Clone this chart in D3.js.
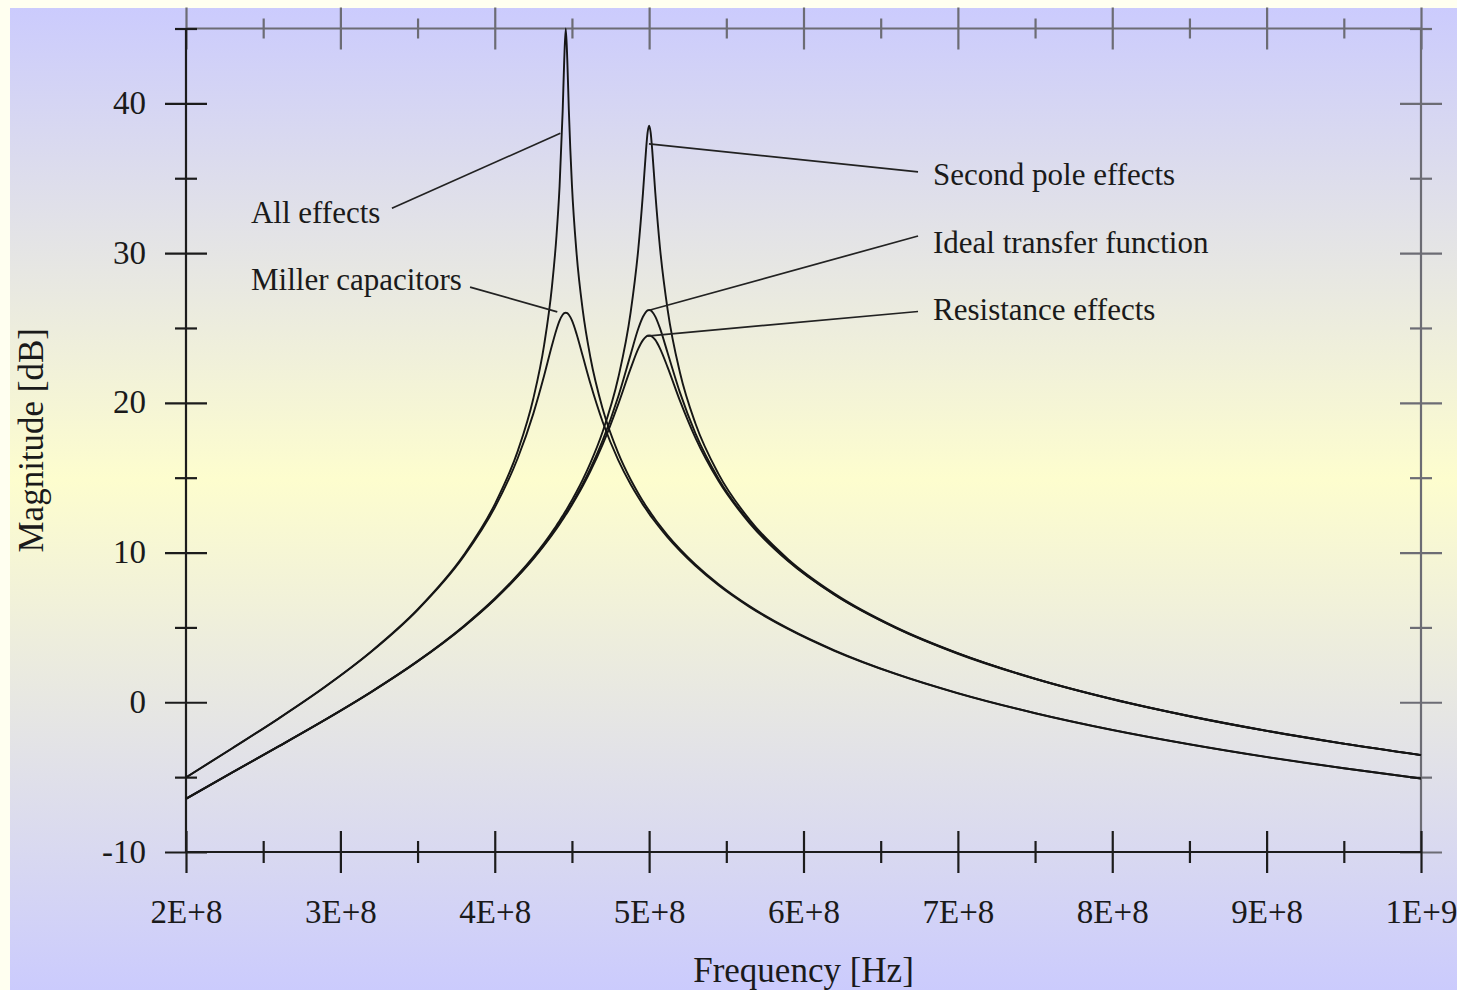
<!DOCTYPE html>
<html>
<head>
<meta charset="utf-8">
<script src="https://cdnjs.cloudflare.com/ajax/libs/d3/7.8.5/d3.min.js"></script>
<style>
body { margin: 0; background: #fffff0; }
svg { display: block; }
text { font-family: "Liberation Serif", "Times New Roman", serif; fill: #1a1a1a; }
</style>
</head>
<body>
<div id="chart"></div>
<script>
// frequency samples in MHz (denser around the two resonances)
var freqMHz = [200, 230, 260, 290, 320, 350, 380, 400, 415, 425, 432, 437, 440, 442, 444, 445, 446, 447, 448, 450,
               453, 457, 462, 470, 480, 488, 493, 496, 498, 499, 500, 501, 502, 504, 507, 512, 520, 530, 545, 565,
               590, 620, 660, 700, 750, 800, 850, 900, 950, 1000];

// magnitudes in dB
var allEffects = [-5.02, -3.07, -1.08, 1.03, 3.40, 6.20, 9.85, 13.22, 16.81, 20.29, 23.87, 27.71, 31.16, 34.48, 39.49, 42.86, 45.00, 42.87, 39.52, 34.55,
                  29.99, 26.19, 23.01, 19.57, 16.64, 14.88, 13.95, 13.43, 13.11, 12.95, 12.80, 12.65, 12.50, 12.21, 11.80, 11.15, 10.22, 9.20, 7.88, 6.42,
                  4.93, 3.47, 1.89, 0.61, -0.72, -1.84, -2.80, -3.65, -4.41, -5.09];
var millerCaps = [-5.02, -3.07, -1.09, 1.02, 3.37, 6.16, 9.75, 13.00, 16.33, 19.28, 21.82, 23.81, 24.90, 25.49, 25.88, 25.99, 26.02, 25.99, 25.88, 25.50,
                  24.60, 23.12, 21.27, 18.70, 16.17, 14.56, 13.69, 13.20, 12.90, 12.75, 12.60, 12.45, 12.31, 12.04, 11.64, 11.01, 10.11, 9.11, 7.81, 6.37,
                  4.90, 3.44, 1.88, 0.60, -0.73, -1.85, -2.81, -3.66, -4.41, -5.09];
var secondPole = [-6.44, -4.68, -2.94, -1.17, 0.70, 2.75, 5.10, 6.93, 8.52, 9.72, 10.64, 11.36, 11.81, 12.13, 12.45, 12.62, 12.79, 12.96, 13.14, 13.50,
                  14.06, 14.87, 15.99, 18.10, 21.67, 26.02, 30.29, 33.99, 36.88, 38.04, 38.51, 38.04, 36.89, 34.03, 30.39, 26.21, 22.01, 18.62, 15.24, 12.20,
                  9.56, 7.26, 5.00, 3.28, 1.58, 0.22, -0.92, -1.90, -2.76, -3.52];
var idealTF = [-6.45, -4.68, -2.95, -1.18, 0.69, 2.73, 5.07, 6.88, 8.45, 9.63, 10.53, 11.23, 11.67, 11.97, 12.28, 12.44, 12.61, 12.77, 12.94, 13.28,
               13.82, 14.58, 15.62, 17.51, 20.42, 23.22, 24.96, 25.75, 26.08, 26.17, 26.20, 26.17, 26.08, 25.76, 24.99, 23.33, 20.68, 17.96, 14.92, 12.04,
               9.47, 7.20, 4.97, 3.26, 1.57, 0.21, -0.93, -1.91, -2.76, -3.53];
var resistance = [-6.45, -4.69, -2.95, -1.18, 0.68, 2.72, 5.05, 6.86, 8.42, 9.58, 10.48, 11.16, 11.59, 11.89, 12.20, 12.36, 12.52, 12.68, 12.84, 13.18,
                  13.70, 14.44, 15.44, 17.24, 19.91, 22.28, 23.62, 24.19, 24.42, 24.48, 24.50, 24.48, 24.42, 24.20, 23.64, 22.37, 20.13, 17.66, 14.77, 11.97,
                  9.43, 7.18, 4.95, 3.24, 1.56, 0.20, -0.93, -1.91, -2.77, -3.53];

var xMajor = [2e8, 3e8, 4e8, 5e8, 6e8, 7e8, 8e8, 9e8, 1e9];
var xMinor = [2.5e8, 3.5e8, 4.5e8, 5.5e8, 6.5e8, 7.5e8, 8.5e8, 9.5e8];
var xTickLabels = ["2E+8", "3E+8", "4E+8", "5E+8", "6E+8", "7E+8", "8E+8", "9E+8", "1E+9"];
var yMajor = [-10, 0, 10, 20, 30, 40];
var yMinor = [-5, 5, 15, 25, 35, 45];
var yTickLabels = ["-10", "0", "10", "20", "30", "40"];

var seriesNames = ["All effects", "Miller capacitors", "Second pole effects", "Ideal transfer function", "Resistance effects"];
var seriesValues = [allEffects, millerCaps, secondPole, idealTF, resistance];

// callouts: text anchor, start of leader, end of leader on the curve (Hz, dB)
var callouts = [
    { text: "All effects",             tx: 2.421e8, ty: 32.03, x1: 3.334e8, y1: 33.0,  x2: 4.425e8, y2: 38.0 },
    { text: "Miller capacitors",       tx: 2.421e8, ty: 27.53, x1: 3.840e8, y1: 27.73, x2: 4.405e8, y2: 26.07 },
    { text: "Second pole effects",     tx: 6.839e8, ty: 34.55, x1: 6.742e8, y1: 35.42, x2: 4.999e8, y2: 37.29 },
    { text: "Ideal transfer function", tx: 6.839e8, ty: 30.03, x1: 6.742e8, y1: 31.14, x2: 5.006e8, y2: 26.2 },
    { text: "Resistance effects",      tx: 6.839e8, ty: 25.5,  x1: 6.742e8, y1: 26.1,  x2: 4.986e8, y2: 24.46 }
];

var width = 1457, height = 990;
var dark = "#1c1c1c", grey = "#6c6c74";

var svg = d3.select("#chart").append("svg")
    .attr("width", width)
    .attr("height", height);

// background gradient lavender -> pale yellow -> lavender
var grad = svg.append("defs").append("linearGradient")
    .attr("id", "bg")
    .attr("x1", 0).attr("y1", 0).attr("x2", 0).attr("y2", 1);
grad.append("stop").attr("offset", "0%").attr("stop-color", "#cbcbfd");
grad.append("stop").attr("offset", "48%").attr("stop-color", "#fdfdce");
grad.append("stop").attr("offset", "100%").attr("stop-color", "#cbcbfd");

svg.append("rect").attr("width", width).attr("height", height).attr("fill", "#fffff0");
svg.append("rect")
    .attr("x", 10).attr("y", 8)
    .attr("width", width - 10).attr("height", height - 8)
    .attr("fill", "url(#bg)");

var x = d3.scaleLinear().domain([2e8, 1e9]).range([186, 1421]);
var y = d3.scaleLinear().domain([-10, 45]).range([852, 28.5]);

// ticks that cross the axis line on both sides
function crossTicks(g, horizontal, size, color) {
    g.select(".domain").remove();
    g.selectAll(".tick line")
        .attr(horizontal ? "y1" : "x1", -size)
        .attr(horizontal ? "y2" : "x2", size)
        .attr("stroke", color)
        .attr("stroke-width", 2.2);
}

// mirror axes (top / right) in grey
var topAxis = svg.append("g").attr("transform", "translate(0," + y(45) + ")");
topAxis.append("line").attr("x1", x(2e8)).attr("x2", x(1e9)).attr("stroke", grey).attr("stroke-width", 2.2);
topAxis.append("g").call(d3.axisTop(x).tickValues(xMajor).tickFormat("")).call(crossTicks, true, 21, grey);
topAxis.append("g").call(d3.axisTop(x).tickValues(xMinor).tickFormat("")).call(crossTicks, true, 10, grey);

var rightAxis = svg.append("g").attr("transform", "translate(" + x(1e9) + ",0)");
rightAxis.append("line").attr("y1", y(45)).attr("y2", y(-10)).attr("stroke", grey).attr("stroke-width", 2.2);
rightAxis.append("g").call(d3.axisRight(y).tickValues(yMajor).tickFormat("")).call(crossTicks, false, 21, grey);
rightAxis.append("g").call(d3.axisRight(y).tickValues(yMinor).tickFormat("")).call(crossTicks, false, 11, grey);

// bottom axis
var bottomAxis = svg.append("g").attr("transform", "translate(0," + y(-10) + ")");
bottomAxis.append("line").attr("x1", x(2e8)).attr("x2", x(1e9)).attr("stroke", dark).attr("stroke-width", 2.2);
bottomAxis.append("g")
    .call(d3.axisBottom(x).tickValues(xMajor).tickFormat(function(d, i) { return xTickLabels[i]; }))
    .call(crossTicks, true, 21, dark)
    .call(function(g) {
        g.selectAll(".tick text")
            .attr("y", 71).attr("dy", 0)
            .attr("fill", dark)
            .style("font-size", "33px")
            .style("font-family", "'Liberation Serif', serif");
    });
bottomAxis.append("g").call(d3.axisBottom(x).tickValues(xMinor).tickFormat("")).call(crossTicks, true, 11, dark);

// left axis
var leftAxis = svg.append("g").attr("transform", "translate(" + x(2e8) + ",0)");
leftAxis.append("line").attr("y1", y(45)).attr("y2", y(-10)).attr("stroke", dark).attr("stroke-width", 2.2);
leftAxis.append("g")
    .call(d3.axisLeft(y).tickValues(yMajor).tickFormat(function(d, i) { return yTickLabels[i]; }))
    .call(crossTicks, false, 21, dark)
    .call(function(g) {
        g.selectAll(".tick text")
            .attr("x", -40).attr("dy", 10)
            .attr("fill", dark)
            .style("font-size", "33px")
            .style("font-family", "'Liberation Serif', serif");
    });
leftAxis.append("g").call(d3.axisLeft(y).tickValues(yMinor).tickFormat("")).call(crossTicks, false, 11, dark);

// the curves
var line = d3.line()
    .x(function(d) { return x(d[0] * 1e6); })
    .y(function(d) { return y(d[1]); })
    .curve(d3.curveMonotoneX);

svg.append("g").selectAll("path")
    .data(seriesValues)
    .enter().append("path")
    .attr("class", function(d, i) { return "series s" + i; })
    .attr("d", function(vals) { return line(freqMHz.map(function(f, j) { return [f, vals[j]]; })); })
    .attr("fill", "none")
    .attr("stroke", "#161616")
    .attr("stroke-width", 1.9);

// callouts
var notes = svg.append("g");
notes.selectAll("line")
    .data(callouts)
    .enter().append("line")
    .attr("x1", function(d) { return x(d.x1); })
    .attr("y1", function(d) { return y(d.y1); })
    .attr("x2", function(d) { return x(d.x2); })
    .attr("y2", function(d) { return y(d.y2); })
    .attr("stroke", "#222")
    .attr("stroke-width", 1.7);
notes.selectAll("text")
    .data(callouts)
    .enter().append("text")
    .attr("x", function(d) { return x(d.tx); })
    .attr("y", function(d) { return y(d.ty); })
    .style("font-size", "31px")
    .text(function(d) { return d.text; });

// axis titles
svg.append("text")
    .attr("x", (x(2e8) + x(1e9)) / 2)
    .attr("y", 982)
    .attr("text-anchor", "middle")
    .style("font-size", "35px")
    .text("Frequency [Hz]");

svg.append("text")
    .attr("transform", "translate(43," + y(17.5) + ") rotate(-90)")
    .attr("text-anchor", "middle")
    .style("font-size", "35px")
    .text("Magnitude [dB]");
</script>
</body>
</html>
